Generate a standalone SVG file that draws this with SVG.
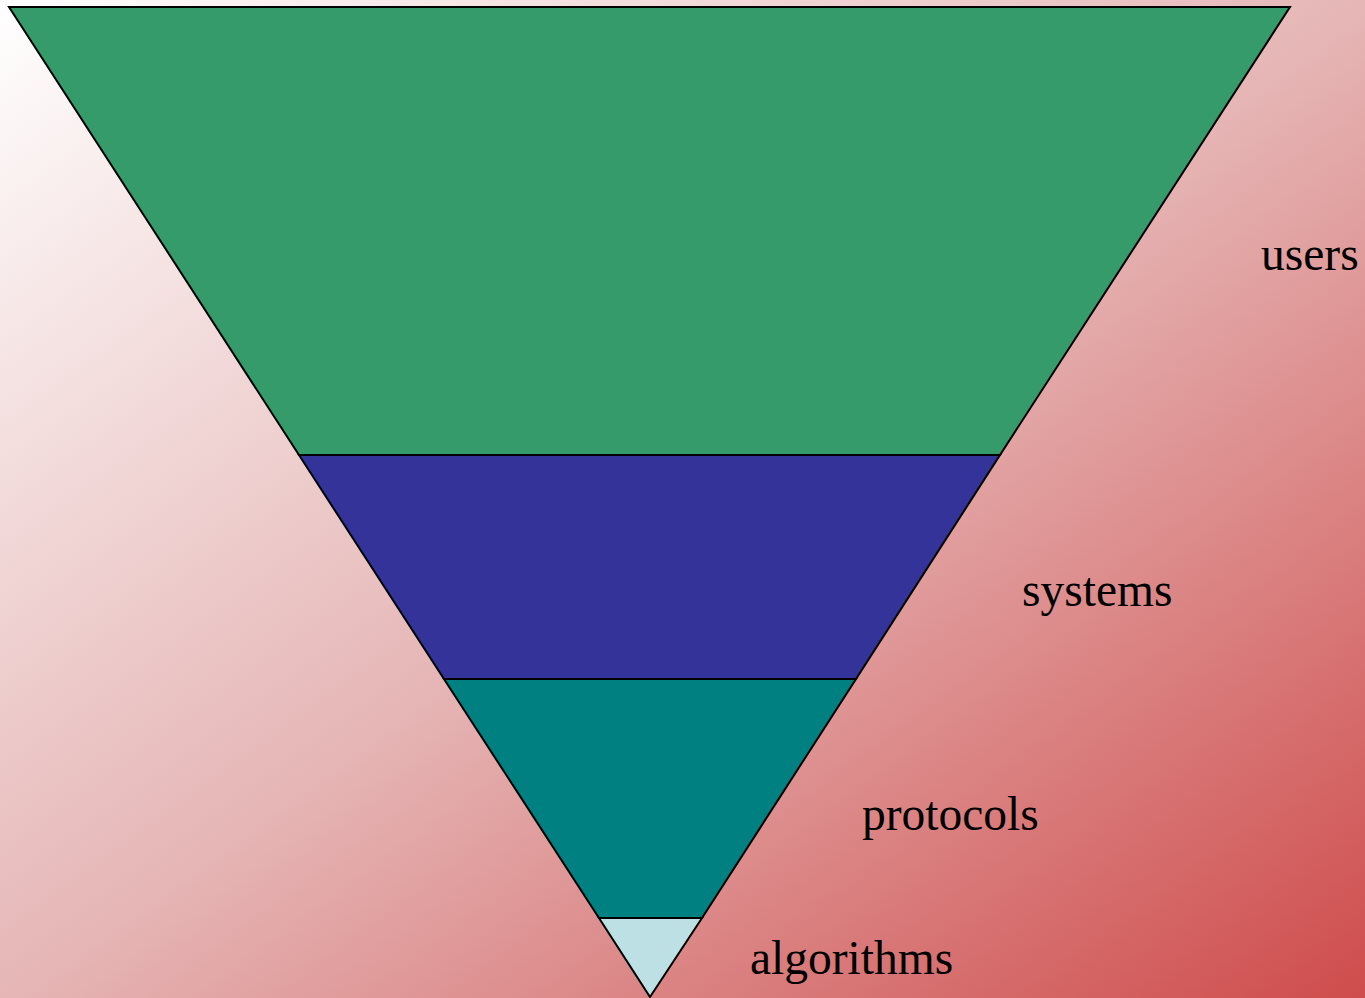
<svg xmlns="http://www.w3.org/2000/svg" width="1365" height="998" viewBox="0 0 1365 998">
<defs>
<linearGradient id="bg" x1="0" y1="0" x2="1" y2="1">
<stop offset="0" stop-color="#ffffff"/>
<stop offset="0.5" stop-color="#e6b6b6"/>
<stop offset="1" stop-color="#cf4c4c"/>
</linearGradient>
<style>
.band{stroke:#000;stroke-width:2;stroke-linejoin:miter}
.lbl{font-family:"Liberation Serif","Times New Roman",serif;font-size:47.5px;fill:#000}
</style>
</defs>
<rect x="0" y="0" width="1365" height="998" fill="url(#bg)"/>
<g id="users">
<polygon class="band" fill="#369b6a" points="9,7 1290,7 1000,455 299,455"/>
<text class="lbl" x="1261" y="270">users</text>
</g>
<g id="systems">
<polygon class="band" fill="#333399" points="299,455 1000,455 856,679 444,679"/>
<text class="lbl" x="1022" y="606">systems</text>
</g>
<g id="protocols">
<polygon class="band" fill="#008080" points="444,679 856,679 702,918 599,918"/>
<text class="lbl" x="862" y="830">protocols</text>
</g>
<g id="algorithms">
<polygon class="band" fill="#bce0e3" points="599,918 702,918 650,997"/>
<text class="lbl" x="750" y="974">algorithms</text>
</g>
<g id="connectors"/>
</svg>
